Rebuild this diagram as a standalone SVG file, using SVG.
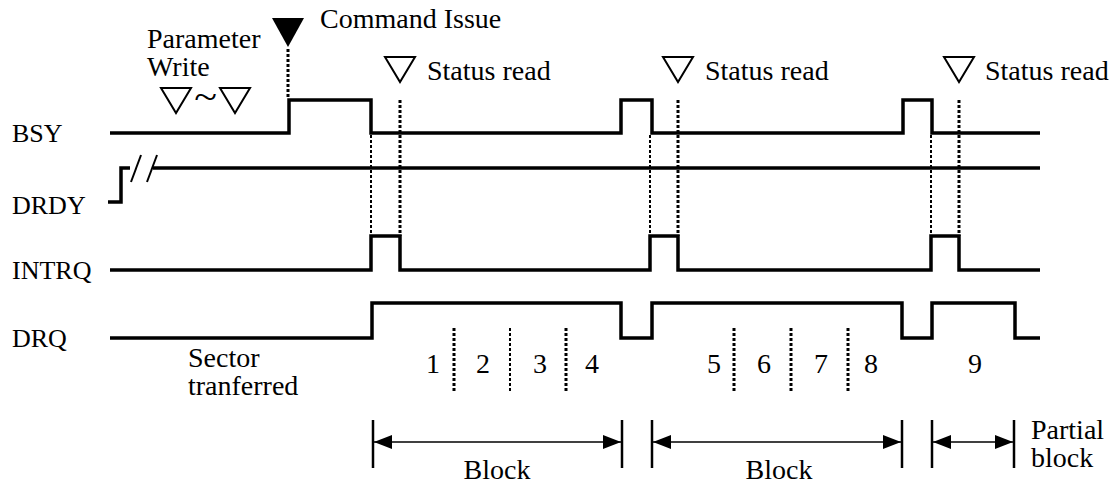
<svg xmlns="http://www.w3.org/2000/svg" width="1115" height="484" viewBox="0 0 1115 484" font-family="'Liberation Serif', 'DejaVu Serif', 'Times New Roman', serif">
<style>
.lbl{font-size:26px}
.ann{font-size:28px}
.sig{fill:none;stroke:#000;stroke-width:3.5;stroke-linejoin:miter;stroke-linecap:butt}
.dot{fill:none;stroke:#000;stroke-width:2;stroke-dasharray:3 2}
.dotb{fill:none;stroke:#000;stroke-width:3;stroke-dasharray:3 2}
.tick{stroke:#000;stroke-width:2.5}
.dim{stroke:#000;stroke-width:1.5;marker-start:url(#ah);marker-end:url(#ah)}
.tri{fill:none;stroke:#000;stroke-width:2}
</style>
<defs>
<marker id="ah" markerUnits="userSpaceOnUse" markerWidth="18" markerHeight="14" viewBox="0 0 18 14" refX="18" refY="7" orient="auto-start-reverse">
<path d="M0,0 L18,7 L0,14 z" fill="#000"/>
</marker>
</defs>
<rect width="1115" height="484" fill="#fff"/>

<g id="labels" font-family="'Liberation Serif', serif">
<text class="lbl" x="12" y="142">BSY</text>
<text class="lbl" x="12" y="214">DRDY</text>
<text class="lbl" x="12" y="279">INTRQ</text>
<text class="lbl" x="12" y="347">DRQ</text>
</g>

<g id="bsy">
<path class="sig" d="M110,133 H289 V100 H371 V133 H621 V100 H652 V133 H903 V100 H932 V133 H1040"/>
</g>
<g id="drdy">
<path class="sig" d="M108,202 H121 V168 H130" stroke-width="3"/>
<line x1="131" y1="182" x2="141" y2="155" stroke="#000" stroke-width="2"/>
<line x1="147" y1="182" x2="157" y2="155" stroke="#000" stroke-width="2"/>
<path class="sig" d="M153,168 H1040" stroke-width="3"/>
</g>
<g id="intrq">
<path class="sig" d="M110,270 H371 V236 H400 V270 H650 V236 H678 V270 H931 V236 H959 V270 H1040"/>
</g>
<g id="drq">
<path class="sig" d="M110,338 H372 V303 H621 V338 H652 V303 H902 V338 H932 V303 H1015 V338 H1040"/>
</g>

<g id="command-issue" font-family="'Liberation Serif', serif">
<polygon points="272,18 304,18 288,47" fill="#000"/>
<text class="ann" x="320" y="28">Command Issue</text>
</g>
<g id="parameter-write" font-family="'Liberation Serif', serif">
<text class="ann" x="147" y="48">Parameter</text>
<text class="ann" x="147" y="76">Write</text>
<polygon class="tri" points="161,88 191,88 176,113"/>
<text transform="translate(205.5,109) scale(1.5,1.3)" x="0" y="0" font-size="28" text-anchor="middle">~</text>
<polygon class="tri" points="220,88 250,88 235,113"/>
</g>
<g id="status-read-1" font-family="'Liberation Serif', serif">
<polygon class="tri" points="385,57 415,57 400,82"/>
<text class="ann" x="427" y="80">Status read</text>
</g>
<g id="status-read-2" font-family="'Liberation Serif', serif">
<polygon class="tri" points="663,57 693,57 678,82"/>
<text class="ann" x="705" y="80">Status read</text>
</g>
<g id="status-read-3" font-family="'Liberation Serif', serif">
<polygon class="tri" points="944,57 974,57 959,82"/>
<text class="ann" x="985" y="80">Status read</text>
</g>

<g id="connectors">
<line class="dotb" x1="288" y1="49" x2="288" y2="99"/>
<line class="dot" x1="371" y1="135" x2="371" y2="236"/>
<line class="dotb" x1="400" y1="100" x2="400" y2="236"/>
<line class="dot" x1="650" y1="135" x2="650" y2="236"/>
<line class="dotb" x1="678" y1="100" x2="678" y2="236"/>
<line class="dot" x1="931" y1="135" x2="931" y2="236"/>
<line class="dotb" x1="959" y1="100" x2="959" y2="236"/>
<line class="dotb" x1="454" y1="328" x2="454" y2="392"/>
<line class="dot" x1="510" y1="328" x2="510" y2="392"/>
<line class="dotb" x1="566" y1="328" x2="566" y2="392"/>
<line class="dotb" x1="734" y1="328" x2="734" y2="392"/>
<line class="dotb" x1="791" y1="328" x2="791" y2="392"/>
<line class="dotb" x1="848" y1="328" x2="848" y2="392"/>
</g>

<g id="sectors" font-family="'Liberation Serif', serif">
<text class="ann" x="188" y="367">Sector</text>
<text class="ann" x="188" y="395">tranferred</text>
<g text-anchor="middle">
<text class="ann" x="433" y="373">1</text>
<text class="ann" x="483" y="373">2</text>
<text class="ann" x="540" y="373">3</text>
<text class="ann" x="592" y="373">4</text>
<text class="ann" x="714" y="373">5</text>
<text class="ann" x="764" y="373">6</text>
<text class="ann" x="821" y="373">7</text>
<text class="ann" x="871" y="373">8</text>
<text class="ann" x="975" y="373">9</text>
</g>
</g>

<g id="dimensions" font-family="'Liberation Serif', serif">
<line class="tick" x1="373" y1="420" x2="373" y2="468"/>
<line class="tick" x1="622" y1="420" x2="622" y2="468"/>
<line class="tick" x1="652" y1="420" x2="652" y2="468"/>
<line class="tick" x1="902" y1="420" x2="902" y2="468"/>
<line class="tick" x1="932" y1="420" x2="932" y2="468"/>
<line class="tick" x1="1014" y1="420" x2="1014" y2="468"/>
<line class="dim" x1="374" y1="442" x2="621" y2="442"/>
<line class="dim" x1="653" y1="442" x2="901" y2="442"/>
<line class="dim" x1="933" y1="442" x2="1013" y2="442"/>
<text class="ann" x="497" y="479" text-anchor="middle">Block</text>
<text class="ann" x="779" y="479" text-anchor="middle">Block</text>
<text class="ann" x="1031" y="439">Partial</text>
<text class="ann" x="1031" y="467">block</text>
</g>
</svg>
